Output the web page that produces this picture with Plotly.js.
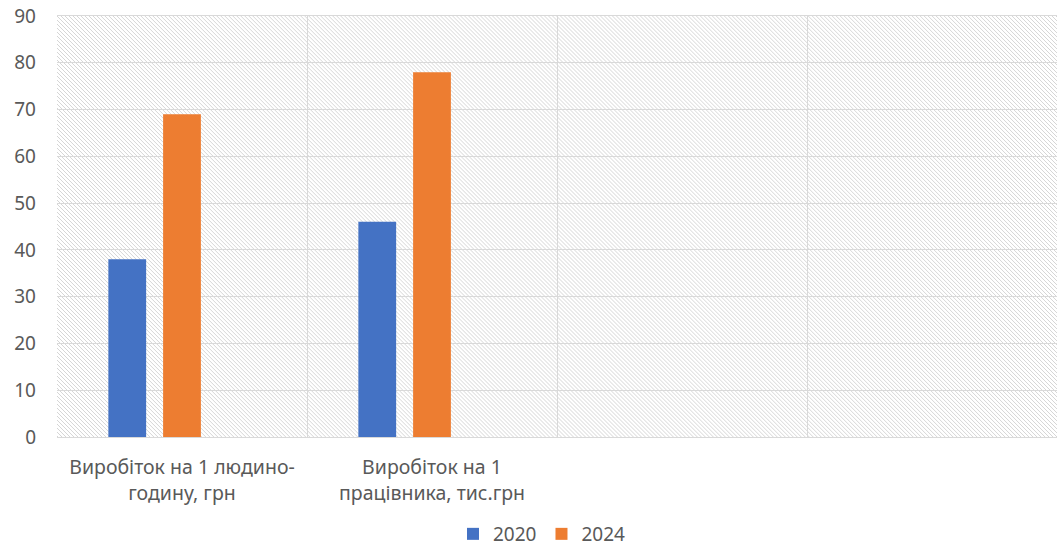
<!DOCTYPE html>
<html>
<head>
<meta charset="utf-8">
<script src="https://cdn.plot.ly/plotly-3.0.1.min.js"></script>
<style>html,body{margin:0;padding:0;background:#fff;}#chart{width:1058px;height:553px;}</style>
</head>
<body>
<div id="chart"></div>
<script>
const categories = ["Виробіток на 1 людино-<br>годину, грн", "Виробіток на 1<br>працівника, тис.грн", " ", "  "];
const series2020 = [38, 46, null, null];
const series2024 = [69, 78, null, null];
const seriesEmpty = [null, null, null, null];
const yTicks = [0, 10, 20, 30, 40, 50, 60, 70, 80, 90];

const hatchSvg = '<svg xmlns="http://www.w3.org/2000/svg" width="1001" height="421" preserveAspectRatio="none">' +
  '<defs><pattern id="h" patternUnits="userSpaceOnUse" width="4" height="4">' +
  '<path d="M-1,-1 L5,5 M-1,3 L1,5 M3,-1 L5,1" stroke="#d6d6d6" stroke-width="1"/></pattern></defs>' +
  '<rect width="1001" height="421" fill="#fff"/><rect width="1001" height="421" fill="url(#h)"/></svg>';
const hatchUri = 'data:image/svg+xml;charset=utf-8,' + encodeURIComponent(hatchSvg);

const fam = "Noto Sans, sans-serif";
const grey = "#595959";

const data = [
  {type: "bar", name: "2020", x: categories, y: series2020, marker: {color: "#4472C4"}},
  {type: "bar", name: "2024", x: categories, y: series2024, marker: {color: "#ED7D31"}},
  {type: "bar", name: "", x: categories, y: seriesEmpty, showlegend: false, marker: {color: "#A5A5A5"}}
];

const layout = {
  width: 1058, height: 553,
  margin: {l: 57, r: 1, t: 16, b: 116, autoexpand: false},
  paper_bgcolor: "#fff",
  plot_bgcolor: "rgba(0,0,0,0)",
  barmode: "group",
  bargap: 0.343,
  bargroupgap: 0.31,
  font: {family: fam, size: 19, color: grey},
  images: [{source: hatchUri, xref: "paper", yref: "paper", x: 0, y: 1, sizex: 1, sizey: 1,
            sizing: "stretch", xanchor: "left", yanchor: "top", layer: "below"}],
  xaxis: {
    type: "category", categoryorder: "array", categoryarray: categories, automargin: false,
    tickson: "boundaries", showgrid: true, gridcolor: "#d9d9d9", gridwidth: 1,
    showline: true, linecolor: "#d9d9d9", linewidth: 1, mirror: true,
    ticks: "", ticklabelstandoff: 13, tickfont: {family: fam, size: 19.5, color: grey}, fixedrange: true
  },
  yaxis: {
    range: [0, 90], tickvals: yTicks, ticktext: yTicks.map(String), automargin: false,
    showgrid: true, gridcolor: "#d9d9d9", gridwidth: 1, zeroline: false,
    showline: false, ticks: "", ticklabelstandoff: 20, tickfont: {family: fam, size: 19, color: grey}
  },
  legend: {orientation: "h", x: 0.485, xanchor: "center", y: -0.014, yref: "container", yanchor: "bottom",
           font: {family: fam, size: 19, color: grey}, itemwidth: 30, traceorder: "normal"},
  showlegend: true
};

Plotly.newPlot("chart", data, layout, {displayModeBar: false, staticPlot: true});
</script>
</body>
</html>
